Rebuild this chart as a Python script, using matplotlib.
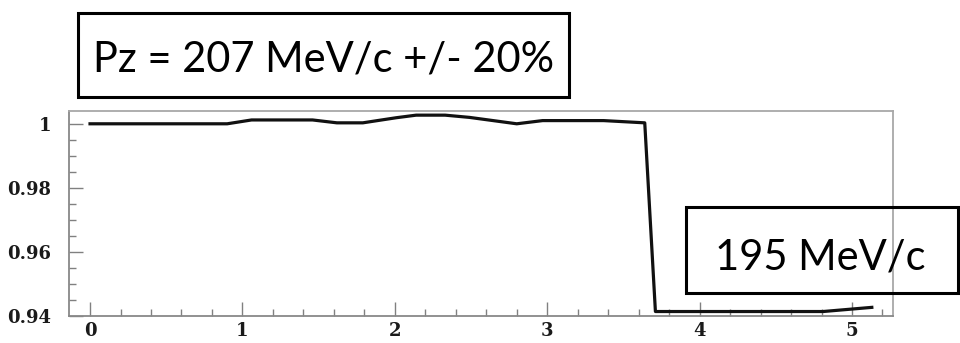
import matplotlib
matplotlib.use("Agg")
import matplotlib.pyplot as plt
from matplotlib.patches import Rectangle
from matplotlib.ticker import MultipleLocator

# transmission vs. position
pos = [0.0, 0.9, 1.06, 1.46, 1.62, 1.79, 2.01, 2.14, 2.33, 2.49, 2.80, 2.97,
       3.37, 3.64, 3.71, 4.81, 5.13]
frac = [1.0, 1.0, 1.0012, 1.0012, 1.0003, 1.0003, 1.0019, 1.0027, 1.0027,
        1.002, 1.0, 1.001, 1.001, 1.0003, 0.9413, 0.9413, 0.9426]

xticks = [0, 1, 2, 3, 4, 5]
yticks = [0.94, 0.96, 0.98, 1.0]
ylabels = ["0.94", "0.96", "0.98", "1"]

title_txt = "Pz = 207 MeV/c +/- 20%"
note_txt = "195 MeV/c"

W, H = 960, 343
fig = plt.figure(figsize=(W / 100, H / 100), dpi=100)
ax = fig.add_axes([69 / W, 1 - 316 / H, (893 - 69) / W, (316 - 111) / H])

ax.plot(pos, frac, color="#111111", lw=2.3, solid_joinstyle="round")

ax.set_xlim(-0.138, 5.269)
ax.set_ylim(0.9399, 1.004)
ax.set_xticks(xticks)
ax.set_xticklabels([str(t) for t in xticks])
ax.set_yticks(yticks)
ax.set_yticklabels(ylabels)
ax.xaxis.set_minor_locator(MultipleLocator(0.2))
ax.yaxis.set_minor_locator(MultipleLocator(0.005))

ax.tick_params(which="both", direction="in", color="#808080", width=1,
               top=False, right=False)
ax.tick_params(which="major", length=10)
ax.tick_params(which="minor", length=5)
ax.tick_params(axis="x", pad=4)
ax.tick_params(axis="y", pad=13)
for lab in ax.get_xticklabels() + ax.get_yticklabels():
    lab.set_fontfamily("DejaVu Serif")
    lab.set_fontweight("bold")
    lab.set_fontsize(13)
    lab.set_color("#1a1a1a")

for s in ax.spines.values():
    s.set_color("#a8a8a8")
    s.set_linewidth(1.3)
ax.spines["left"].set_color("#888888")
ax.spines["bottom"].set_color("#888888")


def px_box(x0, y0, x1, y1, fill):
    fig.patches.append(Rectangle((x0 / W, 1 - y1 / H), (x1 - x0) / W, (y1 - y0) / H,
                                 transform=fig.transFigure, fill=fill,
                                 facecolor="white", edgecolor="black", lw=2.2,
                                 zorder=5))


px_box(78, 13, 569, 97, True)
fig.text(93 / W, 1 - 72 / H, title_txt, family="Lato", fontsize=30,
         ha="left", va="baseline", zorder=6)

px_box(686, 207, 958, 293, False)
fig.text(715 / W, 1 - 270 / H, note_txt, family="Lato", fontsize=30,
         ha="left", va="baseline", zorder=6)

fig.savefig("out.png", dpi=100)
